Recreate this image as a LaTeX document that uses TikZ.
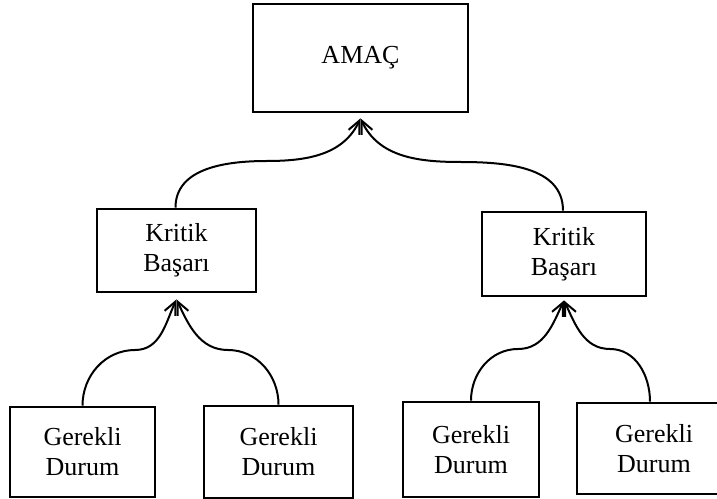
\documentclass[tikz,border=0pt]{standalone}
\usepackage{fontspec}
\setmainfont{Liberation Serif}
\usetikzlibrary{arrows.meta}
\begin{document}
\begin{tikzpicture}[x=1pt,y=1pt,
  box/.style={draw, line width=2.8pt, inner sep=0pt, align=center,
    font=\fontsize{26}{30}\selectfont},
  link/.style={line width=2pt, -{Straight Barb[length=13pt,width=12pt]}}]
\useasboundingbox (0,0) rectangle (717,498);
\node[box, minimum width=215pt, minimum height=108pt] (amac) at (360.5,440) {AMAÇ};
\node[box, minimum width=159pt, minimum height=83pt] (k1) at (176.5,247.5) {Kritik\\Başarı};
\node[box, minimum width=164pt, minimum height=84pt] (k2) at (564,244) {Kritik\\Başarı};
\node[box, minimum width=145pt, minimum height=90pt] (g1) at (82.5,46) {Gerekli\\Durum};
\node[box, minimum width=149pt, minimum height=92pt] (g2) at (278.5,46) {Gerekli\\Durum};
\node[box, minimum width=136pt, minimum height=95pt] (g3) at (471,48.5) {Gerekli\\Durum};
\node[box, minimum width=154pt, minimum height=91pt] (g4) at (654,49.5) {Gerekli\\Durum};
\coordinate (tA) at ([yshift=-5pt]amac.south);
\coordinate (tK1) at ([yshift=-6pt]k1.south);
\coordinate (tK2) at ([yshift=-3pt]k2.south);
\coordinate (mA1) at (267,337);
\coordinate (mA2) at (460,336);
\coordinate (mL1) at (135,148);
\coordinate (mL2) at (228,148);
\coordinate (mR1) at (518,149);
\coordinate (mR2) at (610,149);
\draw[link] ([xshift=-1pt]k1.north) to[out=90,in=180] (mA1) to[out=0,in=-115] (tA);
\draw[link] ([xshift=-1pt]k2.north) to[out=90,in=0] (mA2) to[out=180,in=-65] (tA);
\draw[link] (g1.north) to[out=90,in=180] (mL1) to[out=0,in=-115] (tK1);
\draw[link] (g2.north) to[out=90,in=0] (mL2) to[out=180,in=-65] (tK1);
\draw[link] (g3.north) to[out=90,in=180] (mR1) to[out=0,in=-115] (tK2);
\draw[link] ([xshift=-4pt]g4.north) to[out=90,in=0] (mR2) to[out=180,in=-65] (tK2);
\end{tikzpicture}
\end{document}
